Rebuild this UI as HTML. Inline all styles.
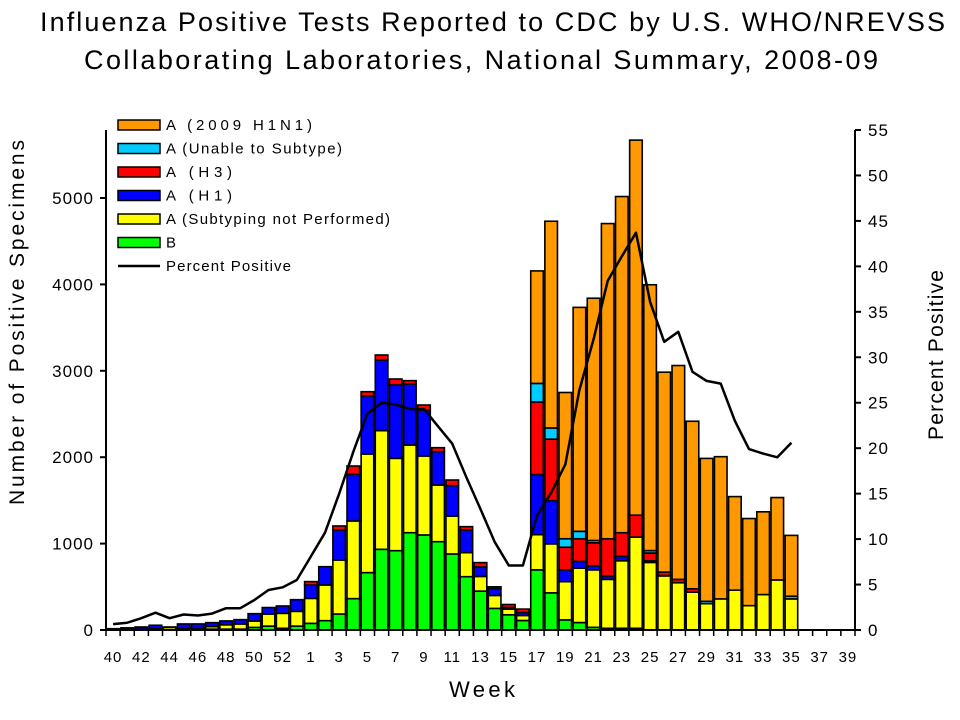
<!DOCTYPE html>
<html><head><meta charset="utf-8"><style>
body{margin:0;background:#fff;}
svg{display:block;font-family:"Liberation Sans",Arial,sans-serif;}
</style></head><body>
<svg id="chart" width="960" height="720" viewBox="0 0 960 720">
<rect width="960" height="720" fill="#fff"/>
<text x="40" y="31" font-size="27" textLength="905" lengthAdjust="spacing">Influenza Positive Tests Reported to CDC by U.S. WHO/NREVSS</text>
<text x="84" y="69" font-size="27" textLength="794" lengthAdjust="spacing">Collaborating Laboratories, National Summary, 2008-09</text>
<g id="bars"></g>
<g id="axes"></g>
<path id="pline" fill="none" stroke="#000" stroke-width="2.5" stroke-linejoin="round"/>
<text x="449" y="697" font-size="22" textLength="66" lengthAdjust="spacing">Week</text>
<text transform="translate(24,505) rotate(-90)" font-size="21" textLength="365" lengthAdjust="spacing">Number of Positive Specimens</text>
<text transform="translate(943,440) rotate(-90)" font-size="21" textLength="170" lengthAdjust="spacing">Percent Positive</text>
<g id="legend"></g>
</svg>
<script>
const weeks=[40,41,42,43,44,45,46,47,48,49,50,51,52,53,1,2,3,4,5,6,7,8,9,10,11,12,13,14,15,16,17,18,19,20,21,22,23,24,25,26,27,28,29,30,31,32,33,34,35,36,37,38,39];
const seriesB=[0,0,0,5,0,5,5,10,10,10,30,45,20,45,77,108,185,363,664,934,918,1126,1100,1022,880,617,450,250,176,110,696,430,117,86,31,20,20,20,0,0,0,0,0,0,0,0,0,0,0,0,0,0,0];
const seriesNotSubtyped=[5,10,10,15,30,10,10,30,50,60,74,140,173,171,289,413,625,899,1373,1373,1069,1015,914,656,439,278,170,150,66,58,407,567,442,630,665,566,781,1055,782,626,547,438,305,360,461,282,410,579,360,0,0,0,0];
const seriesH1=[10,15,25,35,5,55,55,45,45,50,85,75,85,135,154,212,347,540,671,818,849,706,532,386,351,262,110,80,18,35,696,500,137,78,47,40,51,0,19,5,0,0,0,0,0,0,0,0,0,0,0,0,0];
const seriesH3=[0,0,0,0,0,0,0,0,0,0,0,0,0,0,40,0,47,96,50,58,69,39,58,46,66,39,50,20,35,39,840,712,262,262,266,430,274,254,90,39,39,39,0,0,0,0,0,0,0,0,0,0,0];
const seriesUnable=[0,0,0,0,0,0,0,0,0,0,0,0,0,0,0,0,0,0,0,0,0,0,0,0,0,0,0,0,0,0,215,129,98,86,27,0,0,0,28,0,0,0,27,0,0,0,0,0,31,0,0,0,0];
const seriesPandemic=[0,0,0,0,0,0,0,0,0,0,0,0,0,0,0,0,0,0,0,0,0,0,0,0,0,0,0,0,0,0,1302,2393,1693,2592,2804,3648,3891,4341,3077,2314,2475,1939,1654,1646,1083,1008,958,954,704,0,0,0,0];
const percentPositive=[0.65,0.8,1.3,1.9,1.3,1.7,1.6,1.8,2.4,2.4,3.3,4.4,4.7,5.5,8.1,10.7,15.0,19.6,23.8,25.0,24.8,24.3,24.3,22.4,20.5,16.8,13.3,9.7,7.1,7.1,12.6,15.1,18.2,26.4,32.0,38.4,41.1,43.7,36.1,31.7,32.8,28.4,27.4,27.1,23.0,19.9,19.4,19.0,20.6,null,null,null,null];
const leftTicks=[0,1000,2000,3000,4000,5000];
const rightTicks=[0,5,10,15,20,25,30,35,40,45,50,55];

const NS="http://www.w3.org/2000/svg";
const X0=106,X1=855,Y0=630,YT=130;
const bw=(X1-X0)/weeks.length;
const xC=i=>X0+bw*(i+0.5);
const yL=v=>Y0-v*(Y0-198)/5000;
const yR=v=>Y0-v*(Y0-YT)/55;
function mk(tag,attrs,parent){const e=document.createElementNS(NS,tag);for(const k in attrs)e.setAttribute(k,attrs[k]);parent.appendChild(e);return e;}

const layers=[[seriesB,"#00ff00","b"],[seriesNotSubtyped,"#ffff00","a-not-subtyped"],[seriesH1,"#0000ff","a-h1"],[seriesH3,"#ff0000","a-h3"],[seriesUnable,"#00ccff","a-unable"],[seriesPandemic,"#ff9900","a-2009-h1n1"]];
const bars=document.getElementById('bars');
weeks.forEach((w,i)=>{
  let cum=0;
  layers.forEach(([arr,col,nm])=>{
    const v=arr[i];if(!v)return;
    const yb=yL(cum),yt=yL(cum+v);cum+=v;
    const r=mk('rect',{x:xC(i)-6.3,y:yt,width:12.6,height:yb-yt,fill:col,stroke:'#000','stroke-width':1.6},bars);
    
    
  });
});

const axes=document.getElementById('axes');
mk('line',{x1:X0,y1:YT,x2:X0,y2:Y0,stroke:'#000','stroke-width':2},axes);
mk('line',{x1:X1,y1:YT,x2:X1,y2:Y0,stroke:'#000','stroke-width':2},axes);
mk('line',{x1:X0,y1:Y0,x2:X1,y2:Y0,stroke:'#000','stroke-width':2},axes);
leftTicks.forEach(t=>{
  mk('line',{x1:X0-6,y1:yL(t),x2:X0,y2:yL(t),stroke:'#000','stroke-width':2},axes);
  const tx=mk('text',{x:X0-12,y:yL(t)+6,'font-size':17,'text-anchor':'end','letter-spacing':'1'},axes);
  tx.textContent=t;
  
  
});
rightTicks.forEach(t=>{
  mk('line',{x1:X1,y1:yR(t),x2:X1+6,y2:yR(t),stroke:'#000','stroke-width':2},axes);
  const tx=mk('text',{x:X1+13,y:yR(t)+6,'font-size':17,'text-anchor':'start','letter-spacing':'1'},axes);
  tx.textContent=t;
  
  
});
for(let i=0;i<=weeks.length;i++){
  mk('line',{x1:X0+bw*i,y1:Y0,x2:X0+bw*i,y2:Y0+6,stroke:'#000','stroke-width':1.5},axes);
}
weeks.forEach((w,i)=>{
  if(i%2!==0)return;
  const tx=mk('text',{x:xC(i),y:662,'font-size':15,'text-anchor':'middle','letter-spacing':'1'},axes);
  tx.textContent=w;
  
  
});

let d='';
percentPositive.forEach((p,i)=>{if(p==null)return;d+=(d?'L':'M')+xC(i).toFixed(1)+','+yR(p).toFixed(1);});
document.getElementById('pline').setAttribute('d',d);

const leg=document.getElementById('legend');
const legItems=[["A (2009 H1N1)","#ff9900",146],["A (Unable to Subtype)","#00ccff",176],["A (H3)","#ff0000",66],["A (H1)","#0000ff",66],["A (Subtyping not Performed)","#ffff00",224],["B","#00ff00",10],["Percent Positive",null,125]];
legItems.forEach(([lab,col,len],k)=>{
  const y=125+k*23.5;
  const g=mk('g',{},leg);
  
  
  if(col) mk('rect',{x:118,y:y-5,width:42,height:10,fill:col,stroke:'#000','stroke-width':1.5},g);
  else mk('line',{x1:118,y1:y,x2:160,y2:y,stroke:'#000','stroke-width':2.5},g);
  const t=mk('text',{x:166,y:y+5,'font-size':15,textLength:len,lengthAdjust:'spacing'},g);
  t.textContent=lab;
});
</script>
</body></html>
